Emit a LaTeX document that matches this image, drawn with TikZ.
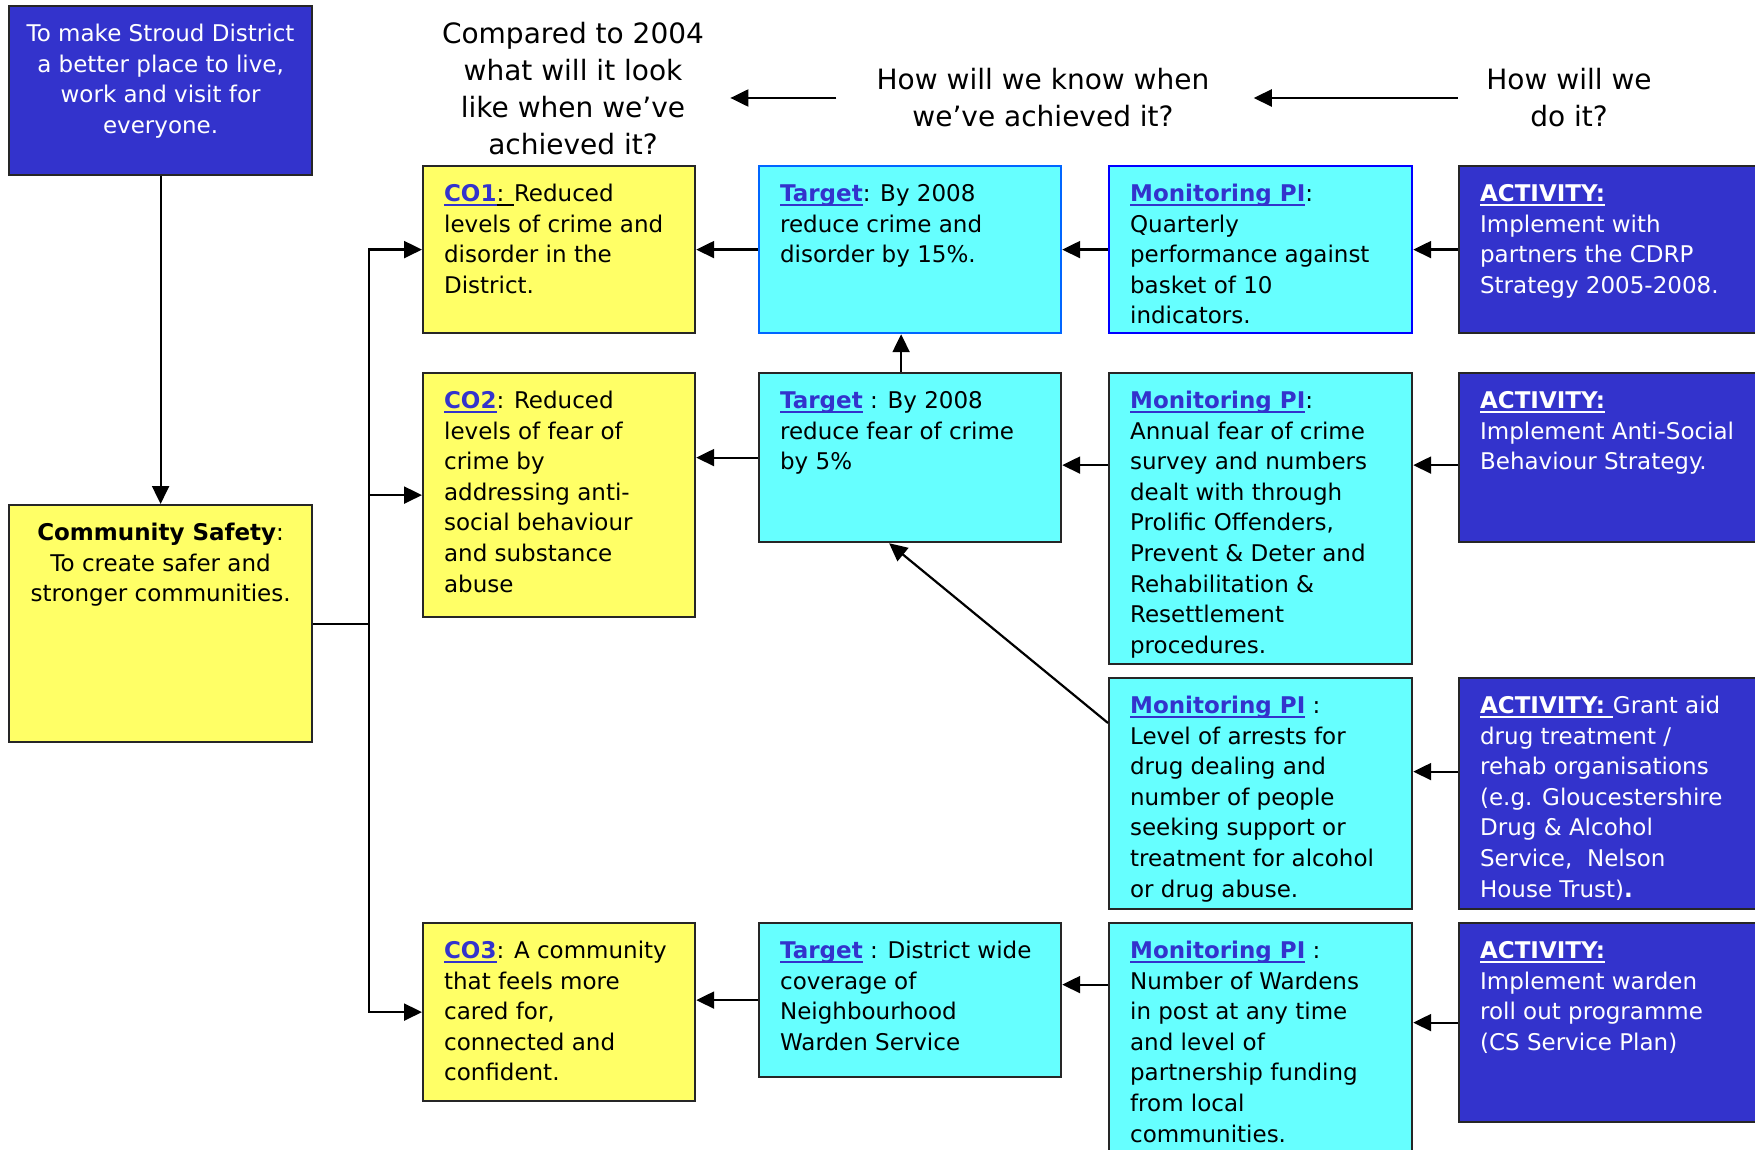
\documentclass[tikz,border=0pt]{standalone}
\usepackage{fontspec}
\setmainfont{DejaVu Sans}
\usetikzlibrary{arrows.meta}
\definecolor{actblue}{RGB}{51,51,204}
\definecolor{coyellow}{RGB}{255,255,102}
\definecolor{tcyan}{RGB}{102,255,255}
\definecolor{labblue}{RGB}{51,51,204}
\newcommand{\thickul}[1]{{\setbox0\hbox{#1}\rlap{\rule[-2.4pt]{\wd0}{1.2pt}}\box0}}
\newcommand{\lab}[1]{\textcolor{labblue}{\thickul{\textbf{#1}}}}
\newcommand{\actlab}[1]{\thickul{\textbf{#1}}}
\newcommand{\celltext}[3]{\parbox[c][\dimexpr#2-14pt\relax][t]{\dimexpr#1-21pt\relax}{\raggedright\strut#3}}
\newcommand{\midtext}[3]{\parbox[c][\dimexpr#2-14pt\relax][t]{\dimexpr#1-8pt\relax}{\centering\strut#3}}
\begin{document}
\begin{tikzpicture}
[x=0.5pt,y=-0.5pt,
  boxdecorate/.style={draw=black!85,line width=1.1pt,anchor=north west,%
    inner xsep=10.5pt,inner ysep=7pt,font=\fontsize{11.5}{15.3}\selectfont},%
  bluedecorate/.style={boxdecorate,fill=actblue,text=white},%
  yellowdecorate/.style={boxdecorate,fill=coyellow},%
  cyandecorate/.style={boxdecorate,fill=tcyan},%
  headdecorate/.style={align=center,inner sep=0pt,font=\fontsize{14}{18.5}\selectfont},%
  linedecorate/.style={-,line width=1.1pt},%
  arrowdecorate/.style={linedecorate,-{Triangle[length=9pt,width=8.5pt]}}]
\useasboundingbox (0,0) rectangle (1755,1150);
%% headings
\node (hdr1) at (573,89) [headdecorate] {Compared to 2004\\what will it look\\like when we’ve\\achieved it?};
\node (hdr2) at (1043,98) [headdecorate] {How will we know when\\we’ve achieved it?};
\node (hdr3) at (1569,98) [headdecorate] {How will we\\do it?};
%% left column
\node (goal) at (8,5) [bluedecorate,inner xsep=4pt] {\midtext{151.5pt}{84.5pt}{To make Stroud District\\a better place to live,\\work and visit for\\everyone.}};
\node (cs) at (8,504) [yellowdecorate,inner xsep=4pt] {\midtext{151.5pt}{118.5pt}{\textbf{Community Safety}:\\To create safer and\\stronger communities.}};
%% outcomes
\node (co1) at (422,165) [yellowdecorate] {\celltext{136pt}{83.5pt}{\lab{CO1}\thickul{: }Reduced\\levels of crime and\\disorder in the\\District.}};
\node (co2) at (422,372) [yellowdecorate] {\celltext{136pt}{122pt}{\lab{CO2}: Reduced\\levels of fear of\\crime by\\addressing anti-\\social behaviour\\and substance\\abuse}};
\node (co3) at (422,922) [yellowdecorate] {\celltext{136pt}{89pt}{\lab{CO3}: A community\\that feels more\\cared for,\\connected and\\confident.}};
%% targets
\node (t1) at (758,165) [cyandecorate,draw=blue!60!cyan] {\celltext{151pt}{83.5pt}{\lab{Target}: By 2008\\reduce crime and\\disorder by 15\%.}};
\node (t2) at (758,372) [cyandecorate] {\celltext{151pt}{84.5pt}{\lab{Target} : By 2008\\reduce fear of crime\\by 5\%}};
\node (t3) at (758,922) [cyandecorate] {\celltext{151pt}{77pt}{\lab{Target} : District wide\\coverage of\\Neighbourhood\\Warden Service}};
%% monitoring
\node (m1) at (1108,165) [cyandecorate,draw=blue] {\celltext{151.5pt}{83.5pt}{\lab{Monitoring PI}:\\Quarterly\\performance against\\basket of 10\\indicators.}};
\node (m2) at (1108,372) [cyandecorate] {\celltext{151.5pt}{145.5pt}{\lab{Monitoring PI}:\\Annual fear of crime\\survey and numbers\\dealt with through\\Prolific Offenders,\\Prevent \& Deter and\\Rehabilitation \&\\Resettlement\\procedures.}};
\node (m3) at (1108,677) [cyandecorate] {\celltext{151.5pt}{115.5pt}{\lab{Monitoring PI} :\\Level of arrests for\\drug dealing and\\number of people\\seeking support or\\treatment for alcohol\\or drug abuse.}};
\node (m4) at (1108,922) [cyandecorate] {\celltext{151.5pt}{130pt}{\lab{Monitoring PI} :\\Number of Wardens\\in post at any time\\and level of\\partnership funding\\from local\\communities.}};
%% activities
\node (a1) at (1458,165) [bluedecorate] {\celltext{161pt}{83.5pt}{\actlab{ACTIVITY:}\\Implement with\\partners the CDRP\\Strategy 2005-2008.}};
\node (a2) at (1458,372) [bluedecorate] {\celltext{161pt}{84.5pt}{\actlab{ACTIVITY:}\\Implement Anti-Social\\Behaviour Strategy.}};
\node (a3) at (1458,677) [bluedecorate] {\celltext{161pt}{115.5pt}{\actlab{ACTIVITY: }Grant aid\\drug treatment /\\rehab organisations\\(e.g. Gloucestershire\\Drug \& Alcohol\\Service,~ Nelson\\House Trust)\textbf{.}}};
\node (a4) at (1458,922) [bluedecorate] {\celltext{161pt}{99.5pt}{\actlab{ACTIVITY:}\\Implement warden\\roll out programme\\(CS Service Plan)}};
\coordinate (trunk) at ([xshift=28pt]cs.east);
%% edges or lines
\path
\foreach \startnode/\endnode in {goal/cs, t1/co1, m1/t1, a1/m1} {
  (\startnode) edge[arrowdecorate] (\endnode)
};
\draw[arrowdecorate,shorten <=20pt,shorten >=13pt] (hdr2.west) -- (hdr2.west -| hdr1.east);
\draw[arrowdecorate,shorten <=14pt,shorten >=22pt] (hdr3.west |- hdr2.east) -- (hdr2.east);
\draw[linedecorate] (cs.east) -- (trunk);
\draw[arrowdecorate] (trunk) |- (co1.west);
\draw[arrowdecorate] (trunk) |- (co2.west);
\draw[arrowdecorate] (trunk) |- (co3.west);
\draw[arrowdecorate] (t2.west) -- (t2.west -| co2.east);
\draw[arrowdecorate] ([yshift=-3.75pt]t2.east -| m2.west) -- ([yshift=-3.75pt]t2.east);
\draw[arrowdecorate] ([yshift=-3.75pt]a2.west) -- ([yshift=-3.75pt]a2.west -| m2.east);
\draw[arrowdecorate] ([xshift=-4.5pt]t2.north) -- ([xshift=-4.5pt]t1.south);
\draw[arrowdecorate] ([yshift=-23pt]m3.north west) -- ([xshift=-10.5pt]t2.south);
\draw[arrowdecorate] ([yshift=11pt]a3.west) -- ([yshift=11pt]a3.west -| m3.east);
\draw[arrowdecorate] (t3.west) -- (t3.west -| co3.east);
\draw[arrowdecorate] ([yshift=7.75pt]t3.east -| m4.west) -- ([yshift=7.75pt]t3.east);
\draw[arrowdecorate] (a4.west) -- (a4.west -| m4.east);
\end{tikzpicture}
\end{document}
